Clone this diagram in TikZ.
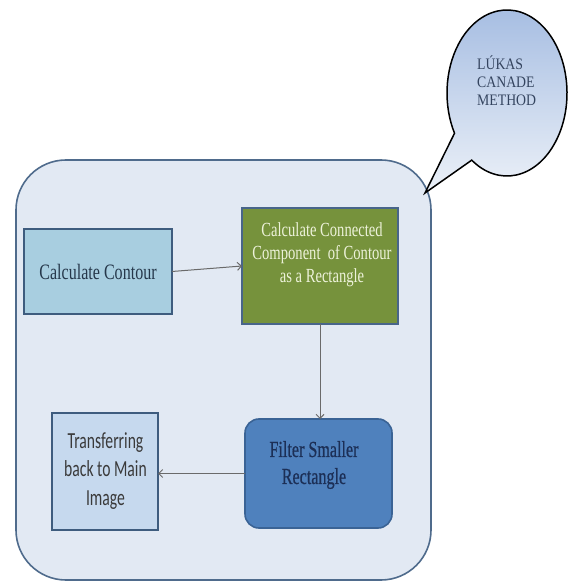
\documentclass[tikz,border=0pt]{standalone}
\usepackage{fontspec}
\setmainfont{Liberation Serif}
\newfontfamily\serifc[FakeStretch=0.73]{Liberation Serif}
\newfontfamily\filterf[FakeStretch=0.70,FakeBold=0.6]{Liberation Serif}
\newfontfamily\sansc[FakeStretch=0.68]{Carlito}
\newfontfamily\balf[FakeStretch=0.86]{Liberation Serif}
\usetikzlibrary{arrows.meta,calc}
\definecolor{outerfill}{HTML}{E2E9F3}
\definecolor{outerline}{HTML}{4F6B8C}
\definecolor{contfill}{HTML}{A8CEE0}
\definecolor{boxline}{HTML}{3E5C7E}
\definecolor{greenfill}{HTML}{76923C}
\definecolor{greenline}{HTML}{48658A}
\definecolor{filterfill}{HTML}{4F81BD}
\definecolor{filterline}{HTML}{3A6395}
\definecolor{transfill}{HTML}{C6D9EE}
\definecolor{contourtext}{HTML}{26384B}
\definecolor{greentext}{HTML}{EDF2DA}
\definecolor{filtertext}{HTML}{1C2F56}
\definecolor{transtext}{HTML}{3A3A3A}
\definecolor{baltop}{HTML}{A3BBE1}
\definecolor{balbot}{HTML}{ECF1F8}
\definecolor{baltext}{HTML}{34445F}
\definecolor{arrowc}{HTML}{6A6A6A}
\begin{document}
\begin{tikzpicture}[x=1pt,y=1pt,
  boxbase/.style={draw, line width=1.6pt, inner sep=0pt, outer sep=0pt},
  txt/.style={inner sep=0pt, align=center},
  conn/.style={draw=arrowc, line width=1pt, -{Straight Barb[length=4pt,width=8pt]}}]
\useasboundingbox (0,0) rectangle (567,583);
% outer panel
\node[boxbase, draw=outerline, fill=outerfill, rounded corners=50pt,
      minimum width=415pt, minimum height=420pt] (panel) at (223.5,213) {};
% boxes
\node[boxbase, draw=boxline, fill=contfill, minimum width=148pt, minimum height=85pt] (contour) at (98,311.5) {};
\node[boxbase, draw=greenline, fill=greenfill, minimum width=156pt, minimum height=116pt] (green) at (320,317) {};
\node[boxbase, draw=filterline, fill=filterfill, rounded corners=14pt, minimum width=147pt, minimum height=109pt] (filter) at (318.5,109.5) {};
\node[boxbase, draw=boxline, fill=transfill, minimum width=106pt, minimum height=117pt] (trans) at (105,111.5) {};
% texts
\node[txt, text=contourtext, font=\serifc\fontsize{22}{25}\selectfont] (contourtxt) at (contour.center) {Calculate Contour};
\node[txt, text=greentext, font=\serifc\fontsize{20}{23}\selectfont] (greentxt) at (322,328) {Calculate Connected\\Component\ \ of Contour\\as a Rectangle};
\node[txt, text=filtertext, font=\filterf\fontsize{23}{27}\selectfont] (filtertxt) at (314,118) {Filter Smaller\\Rectangle};
\node[txt, text=transtext, font=\sansc\fontsize{23}{28.5}\selectfont] (transtxt) at (105.5,112) {Transferring\\back to Main\\Image};
% connectors
\draw[conn] (contour.east) -- (green.west);
\draw[conn] (green.south) -- (green.south |- filter.north);
\draw[conn] (filter.west) -- (filter.west -| trans.east);
% callout balloon
\coordinate (balc) at (507,490);
\coordinate (tip) at (425,390);
\draw[line width=1.5pt, draw=black, top color=baltop, bottom color=balbot]
  (tip) -- ($(balc)+(234:60 and 83)$) arc[start angle=234, end angle=569, x radius=60, y radius=83] -- cycle;
\node[inner sep=0pt, align=left, anchor=west, text=baltext, font=\balf\fontsize{16}{18}\selectfont] (baltxt) at (477,502) {LÚKAS\\CANADE\\METHOD};
\end{tikzpicture}
\end{document}
